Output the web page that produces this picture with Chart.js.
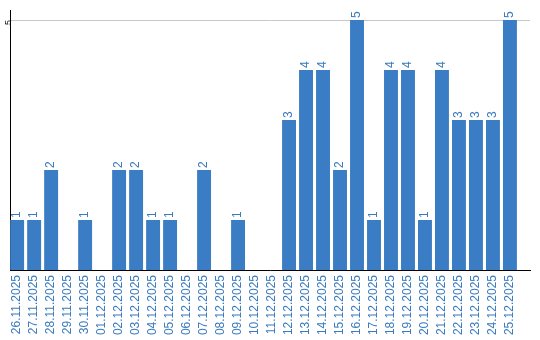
<!DOCTYPE html>
<html lang="en">
<head>
    <meta charset="UTF-8">
    <title>Daily counts</title>
    <style>
        body { margin: 0; background: #fff; }
        #wrap { width: 540px; height: 340px; }
    </style>
    <script src="https://cdn.jsdelivr.net/npm/chart.js"></script>
</head>
<body>
    <div id="wrap"><canvas id="chart"></canvas></div>
    <script>
        const days = ["26.11.2025", "27.11.2025", "28.11.2025", "29.11.2025", "30.11.2025",
            "01.12.2025", "02.12.2025", "03.12.2025", "04.12.2025", "05.12.2025",
            "06.12.2025", "07.12.2025", "08.12.2025", "09.12.2025", "10.12.2025",
            "11.12.2025", "12.12.2025", "13.12.2025", "14.12.2025", "15.12.2025",
            "16.12.2025", "17.12.2025", "18.12.2025", "19.12.2025", "20.12.2025",
            "21.12.2025", "22.12.2025", "23.12.2025", "24.12.2025", "25.12.2025"];
        const counts = [1, 1, 2, 0, 1, 0, 2, 2, 1, 1, 0, 2, 0, 1, 0, 0, 3, 4, 4, 2, 5, 1, 4, 4, 1, 4, 3, 3, 3, 5];
        const yTicks = [5];

        const blue = "#3b7dc4";
        const textBlue = "#3a7bbf";

        // value labels above bars, rotated like the axis labels
        const barLabels = {
            id: "barLabels",
            afterDatasetsDraw(chart) {
                const ctx = chart.ctx;
                const meta = chart.getDatasetMeta(0);
                ctx.save();
                ctx.font = "12px 'Liberation Sans'";
                ctx.fillStyle = textBlue;
                ctx.textAlign = "left";
                ctx.textBaseline = "middle";
                meta.data.forEach((bar, i) => {
                    if (!counts[i]) return;
                    ctx.save();
                    ctx.translate(bar.x, bar.y - 2);
                    ctx.rotate(-Math.PI / 2);
                    ctx.fillText(String(counts[i]), 0, 0);
                    ctx.restore();
                });
                ctx.restore();
            }
        };

        new Chart(document.getElementById("chart"), {
            type: "bar",
            data: {
                datasets: [{
                    data: counts.map((v, i) => ({ x: i, y: v })),
                    backgroundColor: blue,
                    barPercentage: 0.82,
                    categoryPercentage: 1.0
                }]
            },
            options: {
                responsive: true,
                maintainAspectRatio: false,
                animation: false,
                layout: { padding: { top: 10, right: 10, left: 0, bottom: 0 } },
                plugins: { legend: { display: false }, tooltip: { enabled: false } },
                scales: {
                    x: {
                        type: "linear",
                        offset: false,
                        min: -0.42,
                        max: 30.18,
                        afterBuildTicks(axis) {
                            axis.ticks = days.map((d, i) => ({ value: i }));
                        },
                        afterFit(axis) {
                            axis.height = 70;
                            axis.paddingLeft = 0;
                            axis.paddingRight = 0;
                        },
                        grid: { display: false, drawTicks: false },
                        border: { color: "#000", width: 1 },
                        ticks: {
                            color: textBlue,
                            font: { family: "Liberation Sans", size: 12 },
                            minRotation: 90,
                            maxRotation: 90,
                            autoSkip: false,
                            padding: 5,
                            callback: v => days[v]
                        }
                    },
                    y: {
                        min: 0,
                        max: 5.2,
                        afterBuildTicks(axis) {
                            axis.ticks = yTicks.map(v => ({ value: v }));
                        },
                        afterFit(axis) {
                            axis.width = 10;
                            axis.paddingTop = 0;
                            axis.paddingBottom = 0;
                        },
                        grid: { color: "#c8c8c8", drawTicks: false },
                        border: { color: "#000", width: 1 },
                        ticks: {
                            color: "#000",
                            font: { family: "Liberation Sans", size: 9 },
                            minRotation: 90,
                            maxRotation: 90,
                            padding: 1
                        }
                    }
                }
            },
            plugins: [barLabels]
        });
    </script>
</body>
</html>
